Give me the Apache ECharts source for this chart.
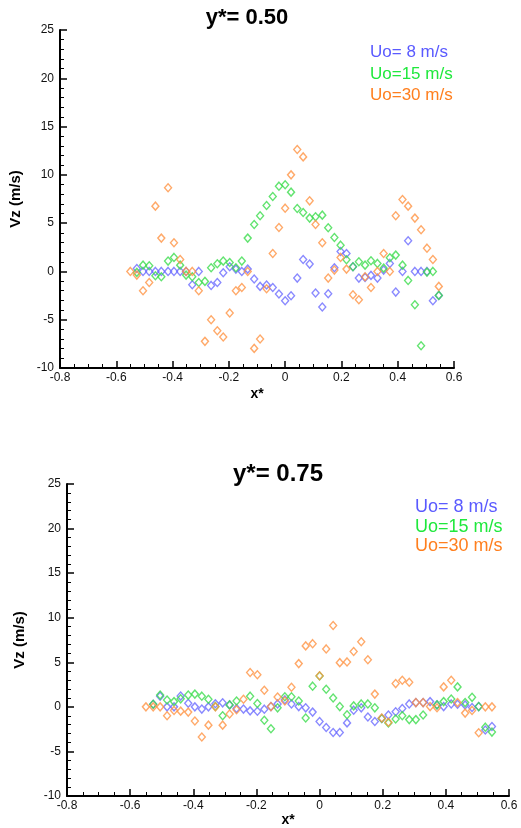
<!DOCTYPE html>
<html>
<head>
<meta charset="utf-8">
<script src="https://cdn.jsdelivr.net/npm/echarts@6/dist/echarts.min.js"></script>
<style>
html,body{margin:0;padding:0;background:#fff;}
#c{width:521px;height:828px;}
</style>
</head>
<body>
<div id="c"></div>
<script>
// Shared x* stations
var xStar = [-0.55, -0.527, -0.505, -0.483, -0.461, -0.44, -0.416, -0.395, -0.373, -0.352,
  -0.33, -0.307, -0.285, -0.263, -0.241, -0.22, -0.197, -0.175, -0.154, -0.133,
  -0.11, -0.089, -0.066, -0.044, -0.022, 0, 0.021, 0.043, 0.064, 0.087,
  0.108, 0.132, 0.153, 0.175, 0.197, 0.218, 0.241, 0.262, 0.284, 0.305,
  0.328, 0.35, 0.372, 0.393, 0.417, 0.437, 0.461, 0.483, 0.504, 0.525, 0.546];

var seriesNames = ['Uo= 8 m/s', 'Uo=15 m/s', 'Uo=30 m/s'];

// y* = 0.50
var top_u8 = [null, 0.31, 0, 0, 0, 0, 0, 0, 0, 0,
  -1.38, 0, null, -1.45, -1.14, -0.14, 0.48, 0.24, 0, 0.24,
  -0.79, -1.55, -1.41, -1.66, -2.34, -3.03, -2.52, -0.69, 1.24, 0.76,
  -2.24, -3.69, -2.31, 0.38, 2.07, 1.86, 0.48, -0.69, -0.62, -0.41,
  -0.69, 0.14, 0.83, -2.14, 0, 3.17, 0, 0, 0, -3.03, -2.48];
var top_u15 = [null, -0.1, 0.65, 0.59, -0.45, -0.55, 1.07, 1.45, 0.65, -0.38,
  -0.55, -1.14, -1.03, 0.38, 0.79, 1.07, 0.93, 0.38, 1.07, 3.45,
  4.86, 5.76, 6.83, 7.76, 8.83, 8.97, 8.21, 6.52, 6.1, 5.52,
  5.66, 5.83, 4.52, 3.52, 2.72, 1.21, 0.48, 1.0, 0.65, 1.1,
  0.83, 0.34, 1.41, 1.69, 0.65, -0.93, -3.45, -7.69, -0.07, 0, -2.48];
var top_u30 = [0, -0.38, -2.0, -1.14, 6.76, 3.45, 8.66, 2.97, 1.24, 0,
  0, -2.0, -7.24, -5.0, -6.14, -6.79, -4.31, -2.0, -1.66, 0,
  -7.97, -7.0, -1.79, 1.86, 4.55, 6.55, 10.0, 12.62, 11.86, 7.31,
  4.86, 2.97, -0.69, 0.14, 1.45, 0.24, -2.41, -2.93, -0.55, -1.66,
  0, 1.86, 0, 5.76, 7.45, 6.76, 5.52, 4.31, 2.41, 1.24, -1.55];

// y* = 0.75
var bot_u8 = [null, 0.29, 1.2, 0, 0, 1.21, 0.4, 0, -0.25, 0,
  0.35, 0.45, 0.22, -0.18, -0.25, -0.45, -0.5, -0.26, 0.03, 0.33,
  0.8, 0.33, 0.03, -0.11, -0.59, -1.65, -2.32, -2.87, -2.87, -1.8,
  -0.37, -0.11, -1.14, -1.65, -1.3, -0.92, -0.55, -0.18, 0.33, 0.48,
  0.48, 0.59, 0.22, 0.03, 0.33, 0.3, 0.22, -0.07, 0.03, -2.6, -2.2];
var bot_u15 = [null, 0.29, 1.32, 0.77, 0.59, 0.9, 1.32, 1.43, 1.2, 0.85,
  0.05, -1.0, 0.22, 0.66, null, 1.2, 0.37, -1.5, -2.46, -0.11,
  1.14, 1.14, 0.66, -1.25, 2.32, 3.46, 1.98, 0.99, 0.03, -0.88,
  0.11, 0.33, 0.33, -0.11, -1.3, -1.8, -1.36, -0.99, -1.43, -1.43,
  -0.92, null, 0.22, 0.59, 0.88, 2.24, 0.48, 1.07, 0.03, -2.28, -2.83];
var bot_u30 = [0, 0, 0, -1.0, -0.4, -0.48, -0.59, -1.58, -3.38, -2.05,
  0, -2.05, -0.8, -0.33, 0.85, 3.86, 3.6, 1.87, 0.03, 1.1,
  0.66, 2.2, 4.85, 6.84, 7.09, 3.49, 6.5, 9.12, 4.96, 5.04,
  6.21, 7.31, 5.29, 1.43, -1.25, -1.73, 2.61, 2.98, 2.76, 0.48,
  0.48, 0.03, -0.1, 2.24, 2.98, 0.48, -0.7, -0.4, -2.9, 0, 0];

var markerColors = ['#6b6bff', '#3bdc4c', '#ff9444'];
var textColors = ['#5a5aff', '#1fe83c', '#ff7f1e'];
var FONT = '"Liberation Sans", Arial, sans-serif';

function pairs(ys) {
  var out = [];
  for (var i = 0; i < xStar.length; i++) {
    if (ys[i] !== null && ys[i] !== undefined) out.push([xStar[i], ys[i]]);
  }
  return out;
}

function mkSeries(name, ys, idx, colorIdx) {
  return {
    type: 'scatter', name: name, xAxisIndex: idx, yAxisIndex: idx,
    symbol: 'diamond', symbolSize: [7, 8],
    itemStyle: { color: 'rgba(0,0,0,0)', borderColor: markerColors[colorIdx], borderWidth: 1.4 },
    emphasis: { disabled: true },
    data: pairs(ys)
  };
}

function xAx(idx) {
  return {
    type: 'value', gridIndex: idx, min: -0.8, max: 0.6, interval: 0.2,
    name: 'x*', nameLocation: 'middle', nameGap: idx === 0 ? 19 : 17,
    nameTextStyle: { fontFamily: FONT, fontWeight: 'bold', fontSize: 14, color: '#000' },
    axisLine: { onZero: false, lineStyle: { color: '#000', width: 2 } },
    axisTick: { inside: true, length: 7, lineStyle: { color: '#000', width: 1.5 } },
    minorTick: { show: true, splitNumber: 4, length: 4, lineStyle: { color: '#000', width: 1 } },
    axisLabel: { fontFamily: FONT, fontSize: 12, color: '#111', margin: 4,
      formatter: function (v) { return String(Math.round(v * 10) / 10); } },
    splitLine: { show: false }
  };
}
function yAx(idx) {
  return {
    type: 'value', gridIndex: idx, min: -10, max: 25, interval: 5,
    name: 'Vz (m/s)', nameLocation: 'middle', nameGap: idx === 0 ? 37 : 40,
    nameTextStyle: { fontFamily: FONT, fontWeight: 'bold', fontSize: 15, color: '#000' },
    axisLine: { onZero: false, lineStyle: { color: '#000', width: 2 } },
    axisTick: { inside: true, length: 7, lineStyle: { color: '#000', width: 1.5 } },
    minorTick: { show: true, splitNumber: 5, length: 4, lineStyle: { color: '#000', width: 1 } },
    axisLabel: { fontFamily: FONT, fontSize: 12, color: '#111', margin: 6 },
    splitLine: { show: false }
  };
}

function legendItem(name, colorIdx, left, top, size) {
  return {
    data: [name], left: left, top: top, padding: 0, icon: 'none',
    itemWidth: 0, itemHeight: 10, selectedMode: false,
    textStyle: { color: textColors[colorIdx], fontFamily: FONT, fontSize: size, padding: [0, 0, 0, -5] }
  };
}

var chart = echarts.init(document.getElementById('c'), null, { renderer: 'canvas' });
chart.setOption({
  animation: false,
  backgroundColor: '#fff',
  grid: [
    { left: 57, top: 30, width: 397, height: 338 },
    { left: 67, top: 484, width: 442, height: 317 }
  ],
  xAxis: [xAx(0), xAx(1)],
  yAxis: [yAx(0), yAx(1)],
  legend: [
    legendItem(seriesNames[0], 0, 370, 44, 17),
    legendItem(seriesNames[1], 1, 370, 66, 17),
    legendItem(seriesNames[2], 2, 370, 87, 17),
    legendItem(seriesNames[0], 0, 415, 498, 18),
    legendItem(seriesNames[1], 1, 415, 518, 18),
    legendItem(seriesNames[2], 2, 415, 537, 18)
  ],
  graphic: [
    { type: 'text', x: 247, y: 18, style: { text: 'y*= 0.50', font: 'bold 22px ' + FONT, fill: '#000', textAlign: 'center', textVerticalAlign: 'middle' } },
    { type: 'text', x: 278, y: 474, style: { text: 'y*= 0.75', font: 'bold 24px ' + FONT, fill: '#000', textAlign: 'center', textVerticalAlign: 'middle' } }
  ],
  series: [
    mkSeries(seriesNames[0], top_u8, 0, 0),
    mkSeries(seriesNames[1], top_u15, 0, 1),
    mkSeries(seriesNames[2], top_u30, 0, 2),
    mkSeries(seriesNames[0], bot_u8, 1, 0),
    mkSeries(seriesNames[1], bot_u15, 1, 1),
    mkSeries(seriesNames[2], bot_u30, 1, 2)
  ]
});
</script>
</body>
</html>
